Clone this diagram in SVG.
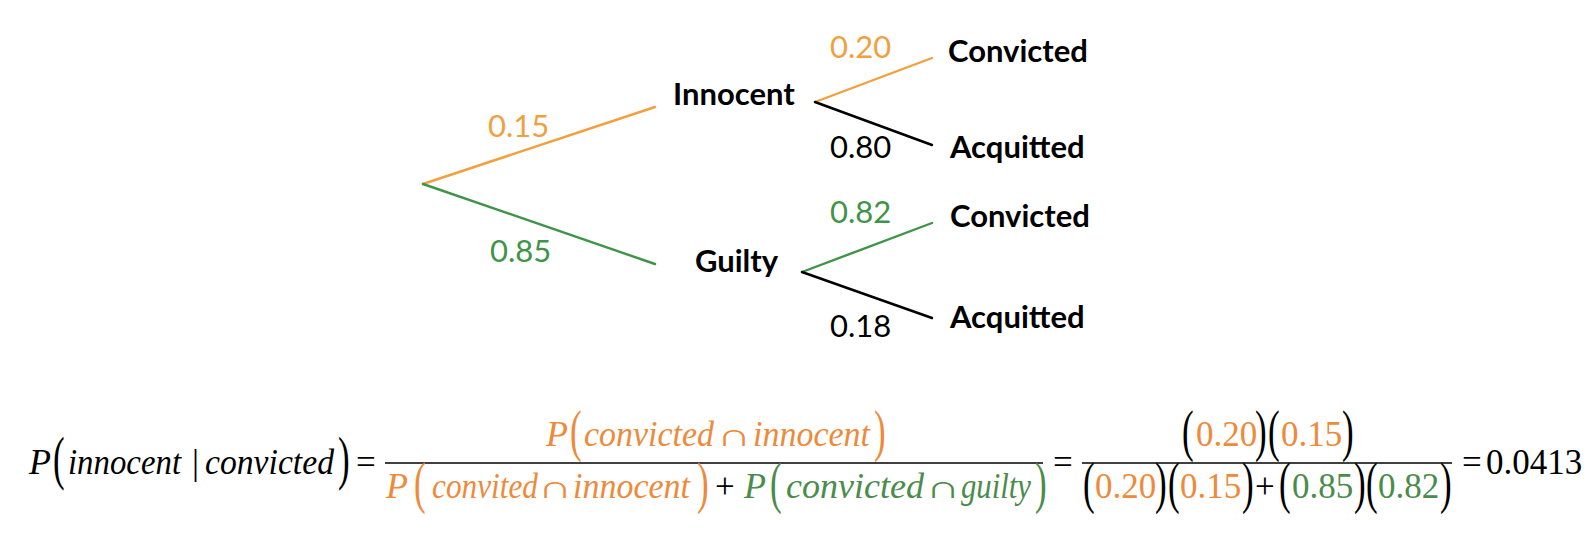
<svg xmlns="http://www.w3.org/2000/svg" width="1594" height="536" viewBox="0 0 1594 536">
<style>
.node{font-family:Lato,"Open Sans","Liberation Sans",sans-serif;font-weight:bold;font-size:31px;fill:#000}
.lbl{font-family:Lato,"Open Sans","Liberation Sans",sans-serif;font-size:31px}
.edge{stroke-width:2.4;fill:none;stroke-linecap:round}
.to{stroke:#F2A03D}.tg{stroke:#3E9448}.tk{stroke:#000}
.fo{fill:#F2A03D}.fg{fill:#3E9448}.fk{fill:#000}
.m{font-family:"Liberation Serif","Times New Roman",serif;font-size:35px}
.mi{font-family:"Liberation Serif","Times New Roman",serif;font-style:italic;font-size:36px}
.cap{font-family:"Liberation Serif","DejaVu Serif",serif;font-size:32px;text-anchor:middle}
.o{fill:#EE8A3A}.g{fill:#4A8C4A}.k{fill:#000}
.bar{stroke:#000;stroke-width:1.6}
</style>
<g id="connectors">
<line class="edge to" x1="423" y1="184" x2="655" y2="107"/>
<line class="edge tg" x1="423" y1="184" x2="655" y2="264"/>
<line class="edge to" x1="815" y1="102" x2="932" y2="58"/>
<line class="edge tk" x1="815" y1="102" x2="932" y2="145"/>
<line class="edge tg" x1="802" y1="272" x2="932" y2="223"/>
<line class="edge tk" x1="802" y1="272" x2="932" y2="318"/>
<text class="lbl fo" x="488" y="137">0.15</text>
<text class="lbl fg" x="490" y="262">0.85</text>
<text class="lbl fo" x="830" y="58">0.20</text>
<text class="lbl fk" x="830" y="158">0.80</text>
<text class="lbl fg" x="830" y="223">0.82</text>
<text class="lbl fk" x="830" y="337">0.18</text>
</g>
<g id="node-innocent"><text class="node" x="673" y="105">Innocent</text></g>
<g id="node-guilty"><text class="node" x="695" y="272">Guilty</text></g>
<g id="node-convicted-1"><text class="node" x="948" y="62">Convicted</text></g>
<g id="node-acquitted-1"><text class="node" x="950" y="158">Acquitted</text></g>
<g id="node-convicted-2"><text class="node" x="950" y="227">Convicted</text></g>
<g id="node-acquitted-2"><text class="node" x="950" y="328">Acquitted</text></g>
<g id="formula">
<!-- left side -->
<text class="mi k" x="29" y="474" font-size="38">P</text>
<text class="m k" transform="translate(53,478) scale(1,1.7)">(</text>
<text class="mi k" x="68" y="474" font-size="37" textLength="113" lengthAdjust="spacingAndGlyphs">innocent</text>
<text class="m k" x="192" y="474">|</text>
<text class="mi k" x="205" y="474" font-size="37" textLength="129" lengthAdjust="spacingAndGlyphs">convicted</text>
<text class="m k" transform="translate(338,478) scale(1,1.7)">)</text>
<text class="m k" x="356" y="474">=</text>
<line class="bar" x1="385" y1="463" x2="1043" y2="463"/>
<!-- numerator 1 -->
<text class="mi o" x="546" y="446">P</text>
<text class="m o" transform="translate(570,450) scale(1,1.65)">(</text>
<text class="mi o" x="584" y="446" textLength="130" lengthAdjust="spacingAndGlyphs">convicted</text>
<text class="cap o" transform="translate(734,446) scale(1.5,1)">∩</text>
<text class="mi o" x="753" y="446" textLength="117" lengthAdjust="spacingAndGlyphs">innocent</text>
<text class="m o" transform="translate(874,450) scale(1,1.65)">)</text>
<!-- denominator 1 -->
<text class="mi o" x="386" y="498">P</text>
<text class="m o" transform="translate(414,502) scale(1,1.65)">(</text>
<text class="mi o" x="432" y="498" textLength="106" lengthAdjust="spacingAndGlyphs">convited</text>
<text class="cap o" transform="translate(555,498) scale(1.5,1)">∩</text>
<text class="mi o" x="573" y="498" textLength="117" lengthAdjust="spacingAndGlyphs">innocent</text>
<text class="m o" transform="translate(697,502) scale(1,1.65)">)</text>
<text class="m k" x="715" y="498">+</text>
<text class="mi g" x="744" y="498">P</text>
<text class="m g" transform="translate(770,502) scale(1,1.65)">(</text>
<text class="mi g" x="786" y="498" textLength="138" lengthAdjust="spacingAndGlyphs">convicted</text>
<text class="cap g" transform="translate(943,498) scale(1.5,1)">∩</text>
<text class="mi g" x="961" y="498" textLength="70" lengthAdjust="spacingAndGlyphs">guilty</text>
<text class="m g" transform="translate(1035,502) scale(1,1.65)">)</text>
<!-- second fraction -->
<text class="m k" x="1053" y="474">=</text>
<line class="bar" x1="1082" y1="463" x2="1452" y2="463"/>
<text class="m k" transform="translate(1182,450) scale(1,1.65)">(</text>
<text class="m o" x="1196" y="446">0.20</text>
<text class="m k" transform="translate(1255,450) scale(1,1.65)">)</text>
<text class="m k" transform="translate(1268,450) scale(1,1.65)">(</text>
<text class="m o" x="1281" y="446">0.15</text>
<text class="m k" transform="translate(1342,450) scale(1,1.65)">)</text>
<text class="m k" transform="translate(1083,502) scale(1,1.65)">(</text>
<text class="m o" x="1095" y="498">0.20</text>
<text class="m k" transform="translate(1155,502) scale(1,1.65)">)</text>
<text class="m k" transform="translate(1168,502) scale(1,1.65)">(</text>
<text class="m o" x="1180" y="498">0.15</text>
<text class="m k" transform="translate(1242,502) scale(1,1.65)">)</text>
<text class="m k" x="1255" y="498">+</text>
<text class="m k" transform="translate(1279,502) scale(1,1.65)">(</text>
<text class="m g" x="1292" y="498">0.85</text>
<text class="m k" transform="translate(1354,502) scale(1,1.65)">)</text>
<text class="m k" transform="translate(1366,502) scale(1,1.65)">(</text>
<text class="m g" x="1378" y="498">0.82</text>
<text class="m k" transform="translate(1440,502) scale(1,1.65)">)</text>
<text class="m k" x="1462" y="474">=</text>
<text class="m k" x="1486" y="474">0.0413</text>
</g>
</svg>
